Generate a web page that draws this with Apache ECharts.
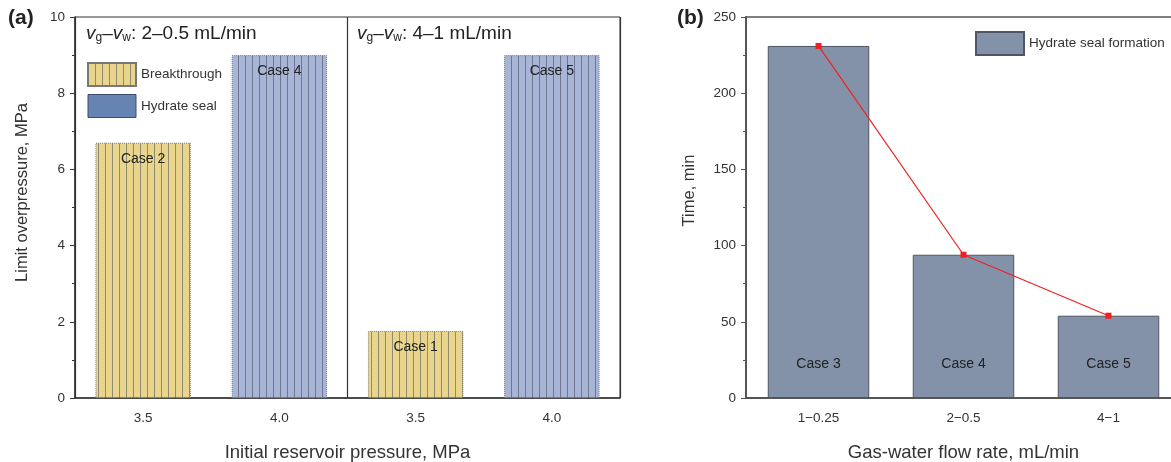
<!DOCTYPE html>
<html>
<head>
    <meta charset="UTF-8">
    <script src="https://cdn.jsdelivr.net/npm/echarts@6/dist/echarts.min.js"></script>
</head>
<style type="text/css">
    html, body { margin: 0; padding: 0; width: 100%; height: 100%; background: #fff; }
    #main { width: 1171px; height: 462px; }
</style>
<body>
    <div id="main"></div>
</body>
<script>
    // panel (a)
    var pressureCats = ['3.5', '4.0', '3.5', '4.0'];
    var breakthroughVals = [6.7, null, 1.76, null];
    var sealVals = [null, 9.0, null, 9.0];
    var caseNamesA = ['Case 2', 'Case 4', 'Case 1', 'Case 5'];
    // panel (b)
    var flowCats = ['1\u22120.25', '2\u22120.5', '4\u22121'];
    var sealTime = [231, 94, 54];
    var caseNamesB = ['Case 3', 'Case 4', 'Case 5'];

    var FONT = 'Liberation Sans';

    function hatch(bg, line) {
        var c = document.createElement('canvas');
        c.width = 7; c.height = 10;
        var ctx = c.getContext('2d');
        ctx.fillStyle = bg;
        ctx.fillRect(0, 0, 7, 10);
        ctx.fillStyle = line;
        ctx.fillRect(0, 0, 1, 10);
        return { image: c, repeat: 'repeat' };
    }
    var yellowHatch = hatch('#e9d68c', '#8f8a72');
    var blueHatch = hatch('#a9b5d6', '#6e7690');

    function withNames(vals, names) {
        return vals.map(function (v, i) {
            return v == null ? null : { value: v, caseName: names[i] };
        });
    }

    function subtitle(rate) {
        return {
            text: '{v|v}{s|g}{t|\u2013}{v|v}{s|w}{t|: ' + rate + ' mL/min}',
            fill: '#222', fontFamily: FONT,
            rich: {
                v: { fontSize: 19, fontStyle: 'italic', fontFamily: FONT },
                s: { fontSize: 12, fontFamily: FONT, padding: [9, 0, 0, 0] },
                t: { fontSize: 19, fontFamily: FONT }
            }
        };
    }

    var myChart = echarts.init(document.getElementById('main'));

    var option = {
        animation: false,
        textStyle: { fontFamily: FONT },
        grid: [
            { left: 75, right: 551, top: 17, bottom: 64, outerBoundsMode: 'none', show: true, borderColor: '#333', borderWidth: 1 },
            { left: 746, width: 435, top: 17, bottom: 64, outerBoundsMode: 'none', show: true, borderColor: '#555', borderWidth: 1.5 }
        ],
        legend: [
            {
                orient: 'vertical', left: 87, top: 62, padding: 0, itemWidth: 48, itemHeight: 23, itemGap: 7,
                icon: 'rect',
                textStyle: { fontSize: 13.5, color: '#333', fontFamily: FONT },
                data: [
                    { name: 'Breakthrough' },
                    { name: 'Hydrate seal', itemStyle: { color: '#6683b1', borderColor: '#3d4d6e', borderType: 'solid', borderWidth: 1 } }
                ]
            },
            {
                left: 975, top: 31, padding: 0, itemWidth: 48, itemHeight: 23, icon: 'rect',
                textStyle: { fontSize: 13.5, color: '#333', fontFamily: FONT },
                data: ['Hydrate seal formation']
            }
        ],
        xAxis: [
            {
                gridIndex: 0, type: 'category', data: pressureCats,
                axisLine: { lineStyle: { color: '#333', width: 1.5 } },
                axisTick: { show: false },
                axisLabel: { color: '#333', fontSize: 13.5, margin: 13 },
                name: 'Initial reservoir pressure, MPa', nameLocation: 'middle', nameGap: 45,
                nameTextStyle: { fontSize: 18.5, color: '#333' }
            },
            {
                gridIndex: 1, type: 'category', data: flowCats,
                axisLine: { lineStyle: { color: '#555', width: 2 } },
                axisTick: { alignWithLabel: true, length: 5, lineStyle: { color: '#555', width: 1.5 } },
                axisLabel: { color: '#333', fontSize: 13.5, margin: 13 },
                name: 'Gas-water flow rate, mL/min', nameLocation: 'middle', nameGap: 45,
                nameTextStyle: { fontSize: 18.5, color: '#333' }
            },
            {
                // divider between the two flow-rate groups of panel (a)
                gridIndex: 0, type: 'value', min: 0, max: 4, interval: 2, position: 'top',
                axisLine: { show: false }, axisTick: { show: false }, axisLabel: { show: false },
                splitLine: { show: true, lineStyle: { color: '#333', width: 1.2 } }
            }
        ],
        yAxis: [
            {
                gridIndex: 0, type: 'value', min: 0, max: 10, interval: 2,
                axisLine: { show: true, lineStyle: { color: '#333', width: 1.5 } },
                axisTick: { show: true, length: 5, lineStyle: { color: '#333' } },
                minorTick: { show: true, splitNumber: 2, length: 3, lineStyle: { color: '#333' } },
                splitLine: { show: false },
                axisLabel: { color: '#333', fontSize: 13.5, margin: 10 },
                name: 'Limit overpressure, MPa', nameLocation: 'middle', nameGap: 44,
                nameTextStyle: { fontSize: 16.5, color: '#333', padding: [0, 0, 0, 30] }
            },
            {
                gridIndex: 1, type: 'value', min: 0, max: 250, interval: 50,
                axisLine: { show: true, lineStyle: { color: '#555', width: 2 } },
                axisTick: { show: true, length: 5, lineStyle: { color: '#555' } },
                minorTick: { show: true, splitNumber: 2, length: 3, lineStyle: { color: '#555' } },
                splitLine: { show: false },
                axisLabel: { color: '#333', fontSize: 13.5, margin: 10 },
                name: 'Time, min', nameLocation: 'middle', nameGap: 48,
                nameTextStyle: { fontSize: 16.5, color: '#333', padding: [0, 0, 0, 34] }
            }
        ],
        series: [
            {
                name: 'Breakthrough', type: 'bar', xAxisIndex: 0, yAxisIndex: 0, stack: 'a', barWidth: '70%',
                data: withNames(breakthroughVals, caseNamesA),
                itemStyle: { color: yellowHatch, borderColor: '#777', borderWidth: 1, borderType: 'dotted' },
                label: {
                    show: true, position: 'insideTop', distance: 9, fontSize: 14, color: '#222',
                    formatter: function (p) { return p.data.caseName; }
                }
            },
            {
                name: 'Hydrate seal', type: 'bar', xAxisIndex: 0, yAxisIndex: 0, stack: 'a', barWidth: '70%',
                data: withNames(sealVals, caseNamesA),
                itemStyle: { color: blueHatch, borderColor: '#777', borderWidth: 1, borderType: 'dotted' },
                label: {
                    show: true, position: 'insideTop', distance: 9, fontSize: 14, color: '#222',
                    formatter: function (p) { return p.data.caseName; }
                }
            },
            {
                name: 'Hydrate seal formation', type: 'bar', xAxisIndex: 1, yAxisIndex: 1, barWidth: '70%',
                data: withNames(sealTime, caseNamesB),
                itemStyle: { color: '#8492a9', borderColor: '#4f5564', borderWidth: 1 },
                label: {
                    show: true, position: 'insideBottom', distance: 27, fontSize: 14, color: '#222',
                    formatter: function (p) { return p.data.caseName; }
                }
            },
            {
                name: 'trend', type: 'line', xAxisIndex: 1, yAxisIndex: 1,
                data: sealTime, symbol: 'rect', symbolSize: 6,
                lineStyle: { color: '#f02020', width: 1.2 },
                itemStyle: { color: '#f02020' }
            }
        ],
        graphic: [
            { type: 'text', left: 8, top: 8, style: { text: '(a)', fontSize: 21, fontWeight: 'bold', fill: '#222', fontFamily: FONT } },
            { type: 'text', left: 677, top: 8, style: { text: '(b)', fontSize: 21, fontWeight: 'bold', fill: '#222', fontFamily: FONT } },
            { type: 'text', left: 86, top: 24, style: subtitle('2\u20130.5') },
            { type: 'text', left: 357, top: 24, style: subtitle('4\u20131') }
        ]
    };

    myChart.setOption(option);
</script>
</html>
